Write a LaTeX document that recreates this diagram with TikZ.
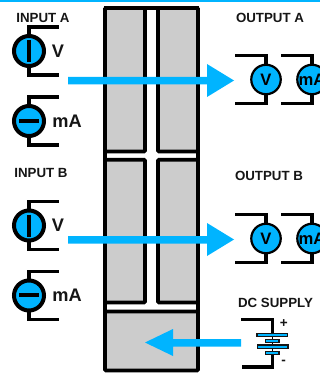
\documentclass[tikz,border=0pt]{standalone}
\usepackage{fontspec}
\setmainfont{Liberation Sans}
\definecolor{cy}{HTML}{00B4FF}
\definecolor{gy}{HTML}{CCCCCC}
\definecolor{ink}{HTML}{151515}
\tikzset{
 x=1pt,y=-1pt,
 lab/.style={font=\bfseries\fontsize{13.3}{15}\selectfont,text=ink,inner sep=0,anchor=center},
 big/.style={font=\bfseries\fontsize{18.2}{20}\selectfont,text=ink,inner sep=0,anchor=center},
 wire/.style={draw=black,line width=3.4pt,line cap=butt,line join=miter},
 edge/.style={draw=black,line width=3.6pt,line cap=butt,line join=round},
 panel/.style={draw=black,line width=3.6pt,fill=gy,rounded corners=1pt},
 meterin/.style={circle,draw=black,line width=4pt,fill=cy,minimum size=30pt,inner sep=0},
 meterout/.style={circle,draw=black,line width=2.2pt,fill=cy,minimum size=29.5pt,inner sep=0,font=\bfseries\fontsize{16.6}{18}\selectfont},
 flow/.style={fill=cy,draw=none},
 cell/.style={draw=ink,line width=1.1pt,fill=cy},
 sign/.style={font=\bfseries\fontsize{13.5}{15}\selectfont,text=ink,inner sep=0,anchor=center},
}
\newcommand{\inmeter}[2]{% name, centre y
 \coordinate (#1t) at (29,#2-24);
 \coordinate (#1b) at (29,#2+24);
 \draw[wire] (58.7,#2-24) -- (#1t) -- (#1b) -- (58.7,#2+24);
 \node[meterin] (#1) at (29,#2) {};
}
\newcommand{\outmeter}[4]{% name, cx, cy, text
 \draw[wire] (#2-31,#3-24) -- (#2,#3-24) -- (#2,#3+24) -- (#2-31,#3+24);
 \node[meterout] (#1) at (#2,#3) {#4};
}
\begin{document}
\begin{tikzpicture}
\useasboundingbox (0,0) rectangle (320,374);
\fill[white] (0,0) rectangle (320,374);
\fill[cy] (0,0) rectangle (320,2.4);
% module
\draw[panel] (105,8) rectangle (145,151.5);
\draw[panel] (158,8) rectangle (198,151.5);
\draw[panel] (105,159.7) rectangle (145,302.5);
\draw[panel] (158,159.7) rectangle (198,302.5);
\draw[panel] (105,311.5) rectangle (198,370.5);
\draw[edge] (104,8) -- (199,8);
\draw[edge] (105,8) -- (105,370);
\draw[edge] (198,8) -- (198,370);
% inputs
\inmeter{ia}{51}
\draw[line width=3.6pt] (29,40) -- (29,62);
\node[big] (lv1) at (58,51.5) {V};
\inmeter{ib}{121}
\draw[line width=3.6pt] (19,121) -- (39,121);
\node[big] (lm1) at (67,121.5) {mA};
\inmeter{ic}{225.5}
\draw[line width=3.6pt] (29,214.5) -- (29,236.5);
\node[big] (lv2) at (58,225.5) {V};
\inmeter{id}{295.5}
\draw[line width=3.6pt] (19,295) -- (39,295);
\node[big] (lm2) at (67,295.5) {mA};
% outputs
\outmeter{oa}{266}{79.5}{V}
\outmeter{ob}{312}{79.5}{mA}
\outmeter{oc}{266}{238.5}{V}
\outmeter{od}{312}{238.5}{mA}
% battery
\draw[wire] (241,319.5) -- (272.5,319.5) -- (272.5,334);
\draw[wire] (272.5,354) -- (272.5,367) -- (241.7,367);
\draw[line width=1.4pt] (272.5,334) -- (272.5,354);
\draw[cell] (257,333.5) rectangle (287.5,336.8);
\draw[cell] (265.8,339.2) rectangle (279,342.4);
\draw[cell] (257.5,345) rectangle (288,348.3);
\draw[cell] (265.8,351.2) rectangle (279,354.4);
\node[sign] (pl) at (283.7,324) {+};
\node[sign] (mi) at (283.7,362) {-};
% flow arrows
\fill[flow] (68,77) -- (207,77) -- (207,64) -- (234,80.5) -- (207,97) -- (207,84.5) -- (68,84.5) -- cycle;
\fill[flow] (68,236) -- (207,236) -- (207,223) -- (234,239.5) -- (207,256) -- (207,243.5) -- (68,243.5) -- cycle;
\fill[flow] (241,339) -- (173,339) -- (173,329) -- (145,342.5) -- (173,356) -- (173,346.5) -- (241,346.5) -- cycle;
% labels
\node[lab] (t1) at (43,17.7) {INPUT A};
\node[lab] (t2) at (41,173) {INPUT B};
\node[lab] (t3) at (270,17.5) {OUTPUT A};
\node[lab] (t4) at (269,176) {OUTPUT B};
\node[lab] (t5) at (275.5,303) {DC SUPPLY};
\end{tikzpicture}
\end{document}
